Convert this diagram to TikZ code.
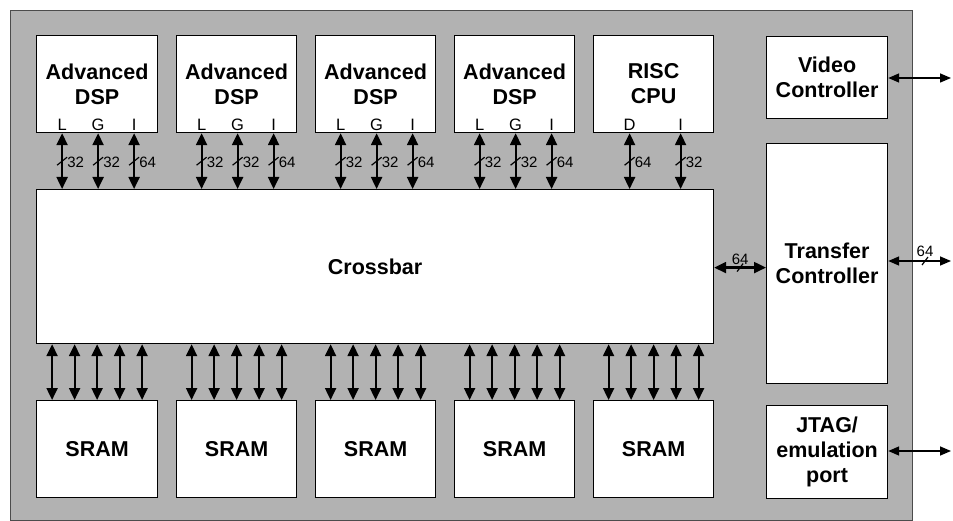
\documentclass[tikz,border=0pt]{standalone}
\usepackage{fontspec}
\setmainfont{Liberation Sans}
\usetikzlibrary{arrows.meta,calc}
\begin{document}
\begin{tikzpicture}[x=1pt,y=-1pt,
  box/.style={draw=black,fill=white,line width=1.2pt,inner sep=0pt,align=center,
    font=\fontsize{21.5}{25}\selectfont\bfseries,anchor=north west},
  pin/.style={font=\fontsize{16.5}{18}\selectfont,inner sep=0pt},
  num/.style={font=\fontsize{15}{16}\selectfont,inner sep=0pt},
  bus/.style={line width=2.2pt,{Triangle[width=11pt,length=12pt]}-{Triangle[width=11pt,length=12pt]}},
  ext/.style={line width=1.5pt,{Triangle[width=9pt,length=11pt]}-{Triangle[width=9pt,length=11pt]}},
  tickmark/.style={line width=1.2pt}]
\useasboundingbox (0,0) rectangle (953,521);
\fill[black!30] (10,10) rectangle (912,520);
\draw[black!70,line width=0.8pt] (10,10) rectangle (912,520);

% top processors
\node[box,minimum width=121pt,minimum height=97pt] (d1) at (36,35) {Advanced\\DSP};
\node[box,minimum width=120pt,minimum height=97pt] (d2) at (176,35) {Advanced\\DSP};
\node[box,minimum width=120pt,minimum height=97pt] (d3) at (315,35) {Advanced\\DSP};
\node[box,minimum width=120pt,minimum height=97pt] (d4) at (454,35) {Advanced\\DSP};
\node[box,minimum width=120pt,minimum height=97pt] (r) at (593,35) {RISC\\CPU};

% right column
\node[box,minimum width=121pt,minimum height=82pt] (vc) at (766,36) {Video\\Controller};
\node[box,minimum width=121pt,minimum height=240pt] (tc) at (766,143) {Transfer\\Controller};
\node[box,minimum width=121pt,minimum height=93pt] (jt) at (766,405) {JTAG/\\emulation\\port};

% crossbar
\node[box,minimum width=677pt,minimum height=154pt] (xb) at (36,189) {Crossbar};

% SRAMs
\node[box,minimum width=121pt,minimum height=97pt] (s1) at (36,400) {SRAM};
\node[box,minimum width=120pt,minimum height=97pt] (s2) at (176,400) {SRAM};
\node[box,minimum width=120pt,minimum height=97pt] (s3) at (315,400) {SRAM};
\node[box,minimum width=120pt,minimum height=97pt] (s4) at (454,400) {SRAM};
\node[box,minimum width=120pt,minimum height=97pt] (s5) at (593,400) {SRAM};

% DSP buses
\foreach \d in {d1,d2,d3,d4}{
  \foreach \dx/\p/\w [count=\k] in {-35/L/32,1/G/32,37/I/64}{
    \coordinate (\d top\k) at ($(\d.south)+(\dx,0)$);
    \coordinate (\d bot\k) at (\d top\k |- xb.north);
    \coordinate (\d mid\k) at ($(\d top\k)+(0,28)$);
    \node[pin,anchor=base] (\d pin\k) at ($(\d top\k)+(0,-3)$) {\p};
    \draw[bus] (\d top\k) -- (\d bot\k);
    \draw[tickmark] ($(\d mid\k)+(-5,4)$) -- ($(\d mid\k)+(5,-4)$);
    \node[num,anchor=west] (\d num\k) at ($(\d mid\k)+(5,1)$) {\w};
  }
}
% RISC buses
\foreach \dx/\p/\w [count=\k] in {-24/D/64,27/I/32}{
  \coordinate (rtop\k) at ($(r.south)+(\dx,0)$);
  \coordinate (rbot\k) at (rtop\k |- xb.north);
  \coordinate (rmid\k) at ($(rtop\k)+(0,28)$);
  \node[pin,anchor=base] (rpin\k) at ($(rtop\k)+(0,-3)$) {\p};
  \draw[bus] (rtop\k) -- (rbot\k);
  \draw[tickmark] ($(rmid\k)+(-5,4)$) -- ($(rmid\k)+(5,-4)$);
  \node[num,anchor=west] (rnum\k) at ($(rmid\k)+(5,1)$) {\w};
}

% SRAM buses
\foreach \s in {s1,s2,s3,s4,s5}{
  \foreach \dx [count=\k] in {-45,-22.5,0,22.5,45}{
    \coordinate (\s top\k) at ($(\s.north)+(\dx,0)$);
    \coordinate (\s bot\k) at (\s top\k |- xb.south);
    \draw[bus] (\s bot\k) -- (\s top\k);
  }
}

% crossbar - transfer controller
\coordinate (xbr) at ($(xb.east)+(0,1)$);
\coordinate (tcl) at (tc.west |- xbr);
\draw[bus] (xbr) -- (tcl);
\coordinate (xtm) at ($(xbr)!0.5!(tcl)$);
\draw[tickmark] ($(xtm)+(-3,4)$) -- ($(xtm)+(3,-4)$);
\node[num,anchor=south] (xtn) at ($(xtm)+(0,-3)$) {64};

% external connections
\coordinate (vce) at (vc.east |- 0,78);
\coordinate (vco) at (951,78);
\draw[ext] (vce) -- (vco);
\coordinate (tce) at (tc.east |- 0,261);
\coordinate (tco) at (951,261);
\draw[ext] (tce) -- (tco);
\coordinate (tcm) at (925,261);
\draw[tickmark] ($(tcm)+(-3,4)$) -- ($(tcm)+(3,-4)$);
\node[num,anchor=south] (tcn) at ($(tcm)+(0,-4)$) {64};
\coordinate (jte) at (jt.east |- 0,451);
\coordinate (jto) at (951,451);
\draw[ext] (jte) -- (jto);
\end{tikzpicture}
\end{document}
